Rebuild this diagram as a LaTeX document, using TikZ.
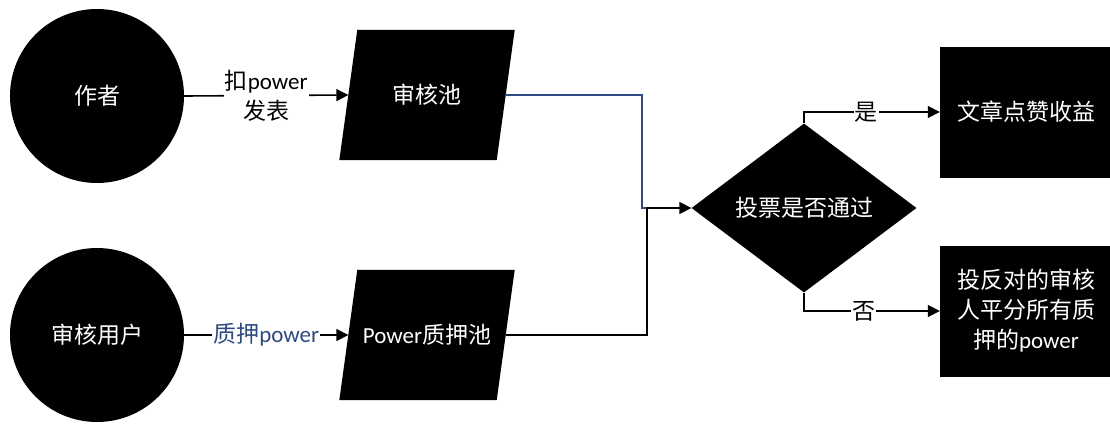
\documentclass[tikz,border=0pt]{standalone}
\usepackage{fontspec}
\setmainfont{Carlito}
\newfontfamily\cjk{Noto Sans CJK SC}
\usetikzlibrary{shapes.geometric,arrows.meta,backgrounds}
\definecolor{lblue}{RGB}{47,74,128}
\begin{document}
\begin{tikzpicture}[x=1pt,y=-1pt,
  font=\fontsize{23}{30}\selectfont,
  circ/.style={circle, fill=black, text=white, minimum size=174pt, inner sep=0pt},
  pbox/.style={rectangle, minimum width=157pt, minimum height=130pt, text=white, inner sep=0pt},
  dia/.style={diamond, fill=black, text=white, minimum width=225pt, minimum height=169pt, inner sep=0pt},
  rbox/.style={rectangle, fill=black, text=white, minimum width=172pt, minimum height=131pt, inner sep=0pt, align=center},
  lbl/.style={fill=white, align=center, inner sep=1pt},
  arr/.style={line width=1.6pt, -{Triangle[length=12pt,width=12pt]}},
  bline/.style={line width=1.4pt, draw=lblue}]
\useasboundingbox (0,0) rectangle (1110,423);

\node[circ] (c1) at (97,96) {{\cjk 作者}};
\node[circ] (c2) at (97,335) {{\cjk 审核用户}};
\node[pbox] (p1) at (427,95) {{\cjk 审核池}};
\node[pbox] (p2) at (427,335) {Power{\cjk 质押池}};
\begin{scope}[on background layer]
  \fill ([xshift=9pt]p1.north west) -- ([xshift=9pt]p1.north east) -- ([xshift=-9pt]p1.south east) -- ([xshift=-9pt]p1.south west) -- cycle;
  \fill ([xshift=9pt]p2.north west) -- ([xshift=9pt]p2.north east) -- ([xshift=-9pt]p2.south east) -- ([xshift=-9pt]p2.south west) -- cycle;
\end{scope}
\node[dia] (d) at (804,208) {{\cjk 投票是否通过}};
\node[rbox] (y) at (1026,112) {{\cjk 文章点赞收益}};
\node[rbox] (n) at (1026,311) {{\cjk 投反对的审核}\\{\cjk 人平分所有质}\\{\cjk 押的}power};

\coordinate (mb) at (642,208);
\coordinate (mk) at (647,208);

\draw[arr] (c1.east) -- node[lbl] {{\cjk 扣}power\\{\cjk 发表}} (p1.west);
\draw[arr] (c2.east) -- node[lbl, text=lblue] {{\cjk 质押}power} (p2.west);
\draw[bline] (p1.east) -| (mb) -- (mk);
\draw[arr] (p2.east) -| (mk) -- (d.west);
\draw[arr] (d.north) |- node[lbl, pos=0.73] {{\cjk 是}} (y.west);
\draw[arr] (d.south) |- node[lbl, pos=0.72] {{\cjk 否}} (n.west);
\end{tikzpicture}
\end{document}
